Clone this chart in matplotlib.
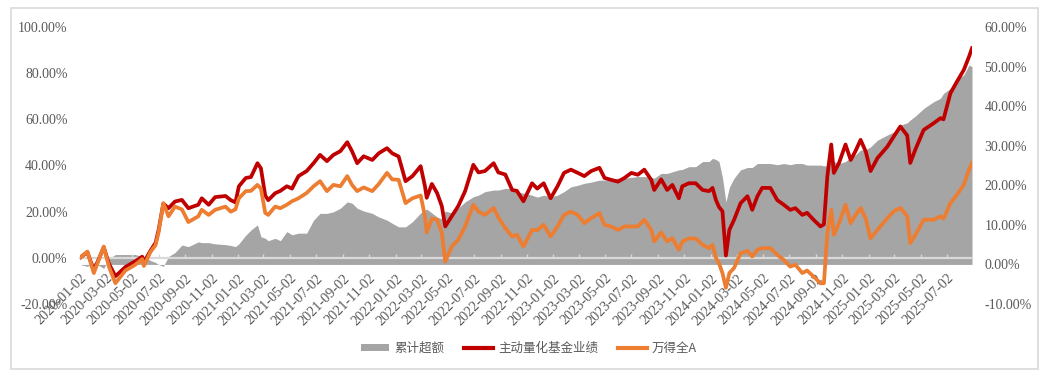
import matplotlib
matplotlib.use("Agg")
import matplotlib.pyplot as plt
import matplotlib.dates as mdates
from matplotlib.patches import Patch, Rectangle
from matplotlib.lines import Line2D
import pandas as pd

dates = [
    "2020-01-02", "2020-01-19", "2020-02-03", "2020-02-26", "2020-03-09", "2020-03-24",
    "2020-04-16", "2020-05-09", "2020-05-25", "2020-05-29", "2020-06-13", "2020-06-25",
    "2020-07-02", "2020-07-13", "2020-07-25", "2020-08-09", "2020-08-25", "2020-09-09",
    "2020-10-02", "2020-10-10", "2020-10-26", "2020-11-10", "2020-12-04", "2020-12-16",
    "2020-12-27", "2021-01-04", "2021-01-20", "2021-02-01", "2021-02-16", "2021-02-24",
    "2021-03-06", "2021-03-13", "2021-03-29", "2021-04-10", "2021-04-25", "2021-05-07",
    "2021-05-22", "2021-06-10", "2021-06-26", "2021-07-11", "2021-07-27", "2021-08-11",
    "2021-08-27", "2021-09-12", "2021-09-23", "2021-10-05", "2021-10-20", "2021-11-09",
    "2021-11-24", "2021-12-13", "2021-12-25", "2022-01-09", "2022-01-25", "2022-02-10",
    "2022-03-01", "2022-03-11", "2022-03-15", "2022-03-27", "2022-04-08", "2022-04-19",
    "2022-04-27", "2022-05-12", "2022-05-27", "2022-06-12", "2022-07-01", "2022-07-13",
    "2022-07-28", "2022-08-17", "2022-08-28", "2022-09-13", "2022-09-29", "2022-10-10",
    "2022-10-25", "2022-11-14", "2022-11-26", "2022-12-11", "2022-12-27", "2023-01-12",
    "2023-01-27", "2023-02-12", "2023-02-28", "2023-03-15", "2023-03-31", "2023-04-19",
    "2023-05-01", "2023-05-16", "2023-06-01", "2023-06-16", "2023-07-02", "2023-07-17",
    "2023-08-01", "2023-08-17", "2023-08-24", "2023-09-09", "2023-09-23", "2023-10-05",
    "2023-10-20", "2023-10-28", "2023-11-12", "2023-11-28", "2023-12-14", "2023-12-29",
    "2024-01-06", "2024-01-14", "2024-01-21", "2024-01-29", "2024-02-06", "2024-02-14",
    "2024-02-25", "2024-03-11", "2024-03-27", "2024-04-07", "2024-04-19", "2024-04-30",
    "2024-05-19", "2024-06-04", "2024-06-19", "2024-07-04", "2024-07-16", "2024-08-01",
    "2024-08-12", "2024-08-27", "2024-09-12", "2024-09-20", "2024-09-28", "2024-10-07",
    "2024-10-13", "2024-10-25", "2024-11-09", "2024-11-21", "2024-12-02", "2024-12-14",
    "2024-12-26", "2025-01-06", "2025-01-22", "2025-02-14", "2025-03-01", "2025-03-16",
    "2025-04-01", "2025-04-08", "2025-04-20", "2025-05-09", "2025-06-01", "2025-06-17",
    "2025-06-24", "2025-07-10", "2025-07-25", "2025-08-10", "2025-08-22", "2025-08-29",
]

# 主动量化基金业绩 (left axis, %)
fund = [
    0.0, 2.5, -5.5, 4.5, -2.5, -8.0,
    -4.0, -1.5, 0.5, -2.0, 3.0, 6.5,
    12.0, 23.5, 21.5, 24.4, 25.1, 21.5,
    23.0, 25.8, 23.0, 26.3, 26.8, 25.0,
    24.0, 31.0, 34.6, 35.0, 41.0, 38.8,
    27.0, 25.0, 28.0, 29.0, 31.0, 30.0,
    35.4, 37.6, 41.0, 44.6, 41.9, 44.6,
    46.2, 50.1, 46.2, 41.0, 44.0, 42.4,
    45.3, 47.5, 45.3, 43.9, 33.2, 35.4,
    39.7, 31.0, 26.0, 32.0, 28.1, 22.4,
    13.6, 18.0, 22.4, 28.9, 40.3, 37.0,
    37.6, 41.0, 37.0, 36.1, 29.4, 29.0,
    24.5, 32.3, 30.0, 32.3, 25.8, 31.0,
    36.8, 38.2, 36.8, 35.4, 37.6, 39.0,
    34.6, 33.8, 33.0, 34.6, 36.8, 36.0,
    38.2, 33.8, 29.4, 34.0, 29.4, 31.6,
    25.8, 31.0, 32.3, 32.3, 29.4, 28.9,
    30.3, 25.0, 22.0, 20.2, 1.0, 12.1,
    16.5, 23.7, 26.7, 20.8, 26.7, 30.3,
    30.3, 25.0, 23.0, 20.8, 21.5, 18.6,
    19.5, 16.5, 13.6, 14.5, 35.4, 49.1,
    36.8, 41.1, 49.1, 42.4, 46.2, 51.1,
    46.0, 37.6, 43.2, 48.2, 52.6, 56.9,
    53.0, 41.1, 47.0, 55.4, 58.3, 60.5,
    60.0, 71.3, 76.3, 81.4, 87.1, 90.8,
]

# 万得全A (left axis, %)
wind_a = [
    0.0, 2.7, -6.6, 4.9, -3.8, -11.0,
    -5.5, -3.0, -0.5, -3.5, 2.5, 5.5,
    11.0, 23.7, 18.0, 22.2, 21.0, 15.5,
    18.0, 20.8, 18.6, 20.8, 22.2, 20.0,
    21.0, 25.8, 28.9, 29.0, 31.6, 30.0,
    19.5, 18.6, 22.2, 21.5, 23.0, 24.5,
    25.8, 28.1, 31.0, 33.2, 28.9, 31.6,
    31.0, 35.4, 31.6, 28.9, 30.5, 28.9,
    32.0, 36.8, 34.0, 33.8, 23.7, 25.8,
    27.0, 18.0, 11.0, 17.0, 16.5, 10.8,
    -1.6, 4.9, 7.8, 13.6, 23.0, 20.0,
    18.6, 21.6, 17.5, 12.9, 9.2, 10.0,
    4.9, 12.1, 12.0, 14.3, 9.2, 13.6,
    18.6, 20.0, 18.6, 15.0, 17.2, 19.4,
    14.3, 13.6, 12.1, 13.6, 13.6, 13.6,
    16.5, 12.1, 7.1, 11.0, 7.1, 8.5,
    3.5, 7.0, 8.4, 8.4, 5.6, 4.2,
    5.6, 0.0, -2.3, -6.6, -13.0, -6.6,
    -4.4, 2.0, 3.0, 0.6, 3.5, 4.2,
    4.2, 1.3, -0.9, -3.8, -3.0, -6.6,
    -5.5, -8.1, -11.0, -11.0, 10.8, 20.8,
    10.0, 15.0, 23.0, 15.0, 18.5, 21.6,
    17.0, 8.4, 12.1, 17.2, 20.2, 21.6,
    18.0, 6.4, 10.0, 16.5, 16.5, 18.0,
    17.0, 23.7, 27.3, 31.6, 38.1, 41.1,
]

# 累计超额 (right axis, %)
excess = [
    0.0, -0.5, 0.5, -1.0, 1.5, 2.5,
    2.5, 2.5, 2.0, 2.0, 1.0, 0.5,
    0.0, -0.5, 2.0, 3.0, 4.9, 4.5,
    5.7, 5.5, 5.5, 5.2, 5.0, 4.8,
    4.5, 5.2, 7.4, 8.7, 10.0, 7.0,
    6.6, 6.0, 6.6, 6.0, 8.3, 7.5,
    7.9, 7.9, 11.2, 12.9, 12.9, 13.3,
    14.2, 15.8, 15.5, 14.2, 13.5, 12.9,
    12.0, 11.2, 10.4, 9.5, 9.5, 10.8,
    13.0, 13.7, 14.0, 13.0, 12.0, 11.5,
    13.5, 13.0, 14.2, 15.8, 17.1, 17.5,
    18.4, 18.8, 18.8, 19.2, 19.2, 18.4,
    18.0, 17.5, 17.0, 17.5, 17.1, 17.5,
    18.4, 19.6, 20.0, 20.5, 20.8, 21.3,
    21.3, 21.6, 21.8, 21.8, 22.0, 22.2,
    22.2, 22.0, 21.8, 23.0, 23.0, 23.4,
    23.9, 24.0, 24.7, 24.7, 26.0, 26.0,
    26.8, 26.5, 26.0, 22.0, 15.8, 19.5,
    21.8, 23.9, 24.5, 24.5, 25.5, 25.5,
    25.5, 25.2, 25.5, 25.2, 25.5, 25.5,
    25.1, 25.1, 25.1, 24.9, 25.0, 26.0,
    26.0, 25.5, 26.0, 27.0, 27.7, 28.9,
    29.0, 29.7, 31.4, 32.7, 33.5, 35.2,
    35.8, 36.5, 37.5, 39.4, 41.1, 42.0,
    43.2, 44.5, 46.7, 47.9, 50.4, 50.0,
]

left_ticks = [-20, 0, 20, 40, 60, 80, 100]
right_ticks = [-10, 0, 10, 20, 30, 40, 50, 60]
legend_labels = ["累计超额", "主动量化基金业绩", "万得全A"]

C_GREY = "#A5A5A5"
C_RED = "#C00000"
C_ORANGE = "#ED7D31"
C_TEXT = "#595959"
C_AXIS = "#D9D9D9"

x = pd.to_datetime(dates)

fig = plt.figure(figsize=(10.47, 3.70), dpi=100)
ax = fig.add_axes([80 / 1047, 1 - 304 / 370, (972 - 80) / 1047, (304 - 27) / 370])
ax2 = ax.twinx()
ax.set_zorder(ax2.get_zorder() + 1)
ax.patch.set_visible(False)

# excess area on right axis
ax2.fill_between(x, 0, excess, color=C_GREY, lw=0)
ax2.set_ylim(-10, 60)
ax2.set_yticks(right_ticks)
ax2.set_yticklabels([f"{v:.2f}%" for v in right_ticks])

# lines on left axis
ax.plot(x, fund, color=C_RED, lw=2.7, solid_joinstyle="round")
ax.plot(x, wind_a, color=C_ORANGE, lw=2.7, solid_joinstyle="round")
ax.set_ylim(-20, 100)
ax.set_yticks(left_ticks)
ax.set_yticklabels([f"{v:.2f}%" for v in left_ticks])

ax.set_xlim(x[0], x[-1])
ax.xaxis.set_major_locator(mdates.MonthLocator(bymonth=range(1, 13, 2), bymonthday=2))
ax.xaxis.set_major_formatter(mdates.DateFormatter("%Y-%m-%d"))

for a in (ax, ax2):
    for s in a.spines.values():
        s.set_visible(False)
ax.spines["bottom"].set_visible(True)
ax.spines["bottom"].set_position(("data", 0))
ax.spines["bottom"].set_color(C_AXIS)
ax.spines["bottom"].set_linewidth(1.6)
ax.spines["bottom"].set_zorder(1.5)

font = "Liberation Serif"
ax.tick_params(axis="y", length=0, pad=9, labelsize=10, labelcolor=C_TEXT)
ax2.tick_params(axis="y", length=0, pad=9, labelsize=10, labelcolor=C_TEXT)
ax.tick_params(axis="x", direction="in", length=3, width=1, color=C_AXIS,
               labelsize=10.3, labelcolor=C_TEXT, pad=10)
for lbl in ax.get_yticklabels() + ax2.get_yticklabels():
    lbl.set_fontfamily(font)
for lbl in ax.get_xticklabels():
    lbl.set_fontfamily(font)
    lbl.set_rotation(45)
    lbl.set_ha("right")
    lbl.set_va("top")
    lbl.set_rotation_mode("anchor")

handles = [
    Patch(facecolor=C_GREY, edgecolor="none"),
    Line2D([], [], color=C_RED, lw=3),
    Line2D([], [], color=C_ORANGE, lw=3),
]
leg = fig.legend(handles, legend_labels, loc="center", bbox_to_anchor=(0.505, 0.058),
                 ncol=3, frameon=False, handlelength=2.3, handleheight=0.55,
                 handletextpad=0.4, columnspacing=1.6,
                 prop={"family": ["Noto Sans CJK SC", "DejaVu Sans"], "size": 9})
for t in leg.get_texts():
    t.set_color(C_TEXT)

fig.patches.append(Rectangle((11 / 1047, 1 - 369 / 370), (1038 - 11) / 1047, (369 - 8) / 370,
                             transform=fig.transFigure, fill=False, edgecolor=C_AXIS, lw=1.2))

fig.savefig("out.png", dpi=100)
